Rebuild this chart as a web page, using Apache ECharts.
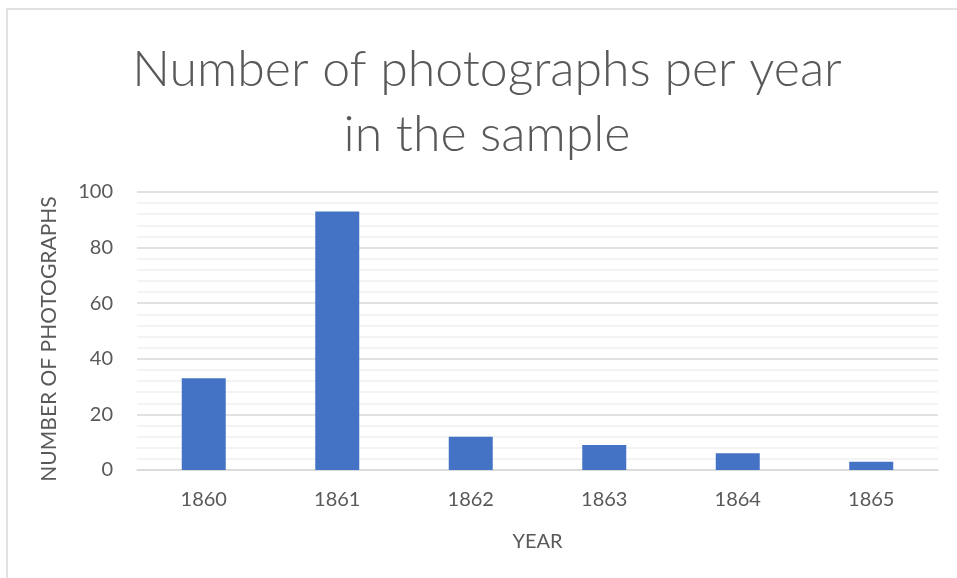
<!DOCTYPE html>
<html>
<head>
<meta charset="utf-8">
<script src="https://cdn.jsdelivr.net/npm/echarts@6/dist/echarts.min.js"></script>
<style>
  html, body { margin: 0; padding: 0; background: #fff; }
  #main { width: 957px; height: 578px; }
</style>
</head>
<body>
<div id="main"></div>
<script>
var years = ['1860', '1861', '1862', '1863', '1864', '1865'];
var photoCounts = [33, 93, 12, 9, 6, 3];
var yTicks = { min: 0, max: 100, interval: 20 };

var myChart = echarts.init(document.getElementById('main'));
var font = 'Lato, "Open Sans", sans-serif';
var option = {
    backgroundColor: '#fff',
    textStyle: { fontFamily: font },
    title: {
        text: 'Number of photographs per year\nin the sample',
        left: 482,
        top: 32,
        textAlign: 'center',
        textStyle: {
            fontFamily: font,
            fontSize: 50,
            fontWeight: 300,
            color: '#595959',
            lineHeight: 65
        }
    },
    graphic: [{
        type: 'rect',
        shape: { x: 7, y: 9, width: 1000, height: 1000 },
        style: { fill: 'none', stroke: '#d9d9d9', lineWidth: 1.5 },
        silent: true
    }],
    grid: { left: 137, right: 19, top: 192, bottom: 108 },
    xAxis: {
        type: 'category',
        data: years,
        name: 'YEAR',
        nameLocation: 'middle',
        nameGap: 62,
        nameTextStyle: { fontSize: 20, color: '#595959' },
        axisLine: { lineStyle: { color: '#d9d9d9', width: 1.5 } },
        axisTick: { show: false },
        axisLabel: { fontSize: 20, color: '#595959', margin: 20 }
    },
    yAxis: {
        type: 'value',
        min: yTicks.min,
        max: yTicks.max,
        interval: yTicks.interval,
        name: 'NUMBER OF PHOTOGRAPHS',
        nameLocation: 'middle',
        nameGap: 77,
        nameTextStyle: { fontSize: 21, color: '#595959', padding: [0, 16, 0, 0] },
        axisLine: { show: false },
        axisTick: { show: false },
        axisLabel: { fontSize: 20, color: '#595959', margin: 24 },
        splitLine: { lineStyle: { color: '#d9d9d9', width: 1.5 } },
        minorTick: { show: false, splitNumber: 5 },
        minorSplitLine: { show: true, lineStyle: { color: '#f0f0f0', width: 1.5 } }
    },
    series: [{
        type: 'bar',
        data: photoCounts,
        barWidth: 44,
        itemStyle: { color: '#4472c4' }
    }]
};
option && myChart.setOption(option);
</script>
</body>
</html>
